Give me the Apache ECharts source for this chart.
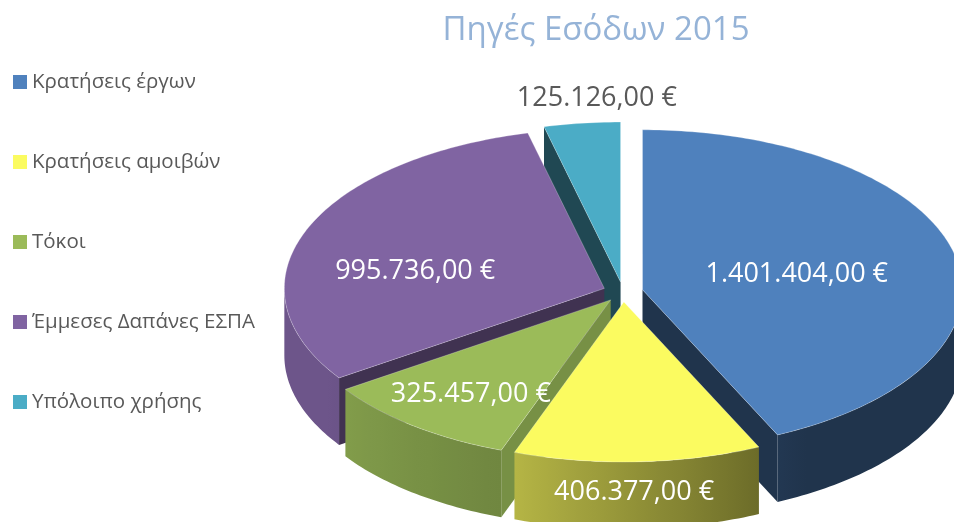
<!DOCTYPE html>
<html><head><meta charset="utf-8">
<script src="https://cdn.jsdelivr.net/npm/echarts@6/dist/echarts.min.js"></script>
<style>html,body{margin:0;padding:0;background:#fff}#c{width:954px;height:522px}</style>
</head><body><div id="c"></div>
<script>
const chartTitle = 'Πηγές Εσόδων 2015';
const categories = ['Κρατήσεις έργων', 'Κρατήσεις αμοιβών', 'Τόκοι', 'Έμμεσες Δαπάνες ΕΣΠΑ', 'Υπόλοιπο χρήσης'];
const values = [1401404, 406377, 325457, 995736, 125126];
const valueLabels = ['1.401.404,00 €', '406.377,00 €', '325.457,00 €', '995.736,00 €', '125.126,00 €'];

// styles
const colors = ['#4F81BD', '#FBFB60', '#9BBB59', '#8064A2', '#4BACC6'];
const faceShade = [0.4, 0.5, 0.77, 0.5, 0.42];
const labelPos = [[0.5, -2, 2], [1.17, -6, 3], [0.71, 0, 5], [0.6, -10, 17], [1.16, 21, 0]]; // radial factor, dx, dy
const labelColors = ['#ffffff', '#ffffff', '#ffffff', '#ffffff', '#595959'];
const FONT = '"Open Sans", sans-serif';

const CX = 623, CY = 292, RX = 320, RY = 160, H = 67, EXPLODE = 20;
const total = values.reduce((a, b) => a + b, 0);
const rad = d => d * Math.PI / 180;
function angles(i) { let s = 0; for (let k = 0; k < i; k++) s += values[k]; return [s / total * 360, (s + values[i]) / total * 360]; }
function offset(mid) { return [EXPLODE * Math.sin(rad(mid)), -EXPLODE * Math.cos(rad(mid)) * RY / RX]; }
function P(th, o, down, r) { r = r == null ? 1 : r; return [CX + o[0] + r * RX * Math.sin(rad(th)), CY + o[1] - r * RY * Math.cos(rad(th)) + (down || 0)]; }
function shade(hex, f) {
  const n = parseInt(hex.slice(1), 16);
  const r = Math.round(((n >> 16) & 255) * f), g = Math.round(((n >> 8) & 255) * f), b = Math.round((n & 255) * f);
  return 'rgb(' + r + ',' + g + ',' + b + ')';
}
function wallF(th) {
  if (th <= 150) return 0.4;
  if (th <= 200) return 0.4 + (th - 150) / 50 * 0.32;
  if (th <= 240) return 0.72 + (th - 200) / 40 * 0.13;
  return 0.85;
}

function renderSlice(i) {
  return function (params, api) {
    const [a0, a1] = angles(i);
    const mid = (a0 + a1) / 2;
    const o = offset(mid);
    const V = [CX + o[0], CY + o[1]];
    const children = [];
    const col = colors[i];
    if (Math.sin(rad(a0)) < -1e-3) {
      const p = P(a0, o);
      children.push({ type: 'polygon', shape: { points: [V, p, [p[0], p[1] + H], [V[0], V[1] + H]] }, style: { fill: shade(col, faceShade[i]) } });
    }
    if (Math.sin(rad(a1)) > 1e-3) {
      const p = P(a1, o);
      children.push({ type: 'polygon', shape: { points: [V, p, [p[0], p[1] + H], [V[0], V[1] + H]] }, style: { fill: shade(col, faceShade[i]) } });
    }
    const lo = Math.max(a0, 90), hi = Math.min(a1, 270);
    if (hi > lo) {
      const top = [], bot = [], stops = [];
      const n = Math.max(2, Math.ceil(hi - lo));
      for (let k = 0; k <= n; k++) {
        const th = lo + (hi - lo) * k / n;
        const p = P(th, o);
        top.push(p); bot.push([p[0], p[1] + H]);
      }
      const xs = top.map(p => p[0]);
      const xmin = Math.min(...xs), xmax = Math.max(...xs);
      for (let k = 0; k <= n; k += Math.max(1, Math.floor(n / 12))) {
        const th = lo + (hi - lo) * k / n;
        stops.push({ offset: (top[k][0] - xmin) / Math.max(1, xmax - xmin), color: shade(col, wallF(th)) });
      }
      stops.push({ offset: (top[n][0] - xmin) / Math.max(1, xmax - xmin), color: shade(col, wallF(hi)) });
      stops.sort((a, b) => a.offset - b.offset);
      children.push({ type: 'polygon', shape: { points: top.concat(bot.reverse()) },
        style: { fill: new echarts.graphic.LinearGradient(xmin, 0, xmax, 0, stops, true) } });
    }
    const pts = [V];
    const n = Math.max(2, Math.ceil(a1 - a0));
    for (let k = 0; k <= n; k++) pts.push(P(a0 + (a1 - a0) * k / n, o));
    children.push({ type: 'polygon', shape: { points: pts }, style: { fill: col, stroke: 'rgba(255,255,255,0.25)', lineWidth: 1 } });
    return { type: 'group', children };
  };
}

const mids = values.map((v, i) => { const [a, b] = angles(i); return (a + b) / 2; });
const depth = mids.map(m => -Math.cos(rad(m)));
const order = depth.map((d, i) => i).sort((x, y) => depth[x] - depth[y]);

const series = categories.map((name, i) => ({
  type: 'custom', name, coordinateSystem: 'none', z: 2 + order.indexOf(i),
  itemStyle: { color: colors[i] }, silent: true,
  data: [[values[i]]],
  renderItem: renderSlice(i)
}));
series.push({
  type: 'custom', name: 'labels', coordinateSystem: 'none', z: 20, silent: true,
  data: values.map(v => [v]),
  renderItem: function (params, api) {
    const i = params.dataIndex;
    const mid = mids[i];
    const o = offset(mid);
    const p = P(mid, o, labelPos[i][2], labelPos[i][0]);
    return { type: 'text', style: { text: valueLabels[i], x: p[0] + labelPos[i][1], y: p[1], align: 'center', verticalAlign: 'middle',
      fill: labelColors[i], font: '27px ' + FONT } };
  }
});

const chart = echarts.init(document.getElementById('c'), null, { renderer: 'canvas' });
chart.setOption({
  animation: false,
  backgroundColor: '#ffffff',
  title: { text: chartTitle, left: 591, textAlign: 'center', top: 9,
    textStyle: { fontFamily: FONT, fontSize: 33, fontWeight: 'normal', color: '#95B3D7' } },
  legend: { data: categories, orient: 'vertical', left: 8, top: 66, itemWidth: 14, itemHeight: 14, itemGap: 58, icon: 'rect',
    selectedMode: false,
    textStyle: { fontFamily: FONT, fontSize: 20.5, color: '#595959', lineHeight: 22 } },
  series
});
</script></body></html>
